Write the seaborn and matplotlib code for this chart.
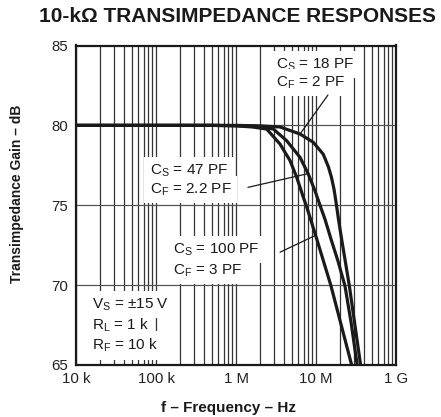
import numpy as np
import pandas as pd
import matplotlib
matplotlib.use("Agg")
import matplotlib.pyplot as plt
from matplotlib.ticker import LogLocator, NullFormatter, FixedLocator
import seaborn as sns

# Frequency response curves (Hz, dB)
freq_cs18 = [1e4, 1e5, 5e5, 1e6, 2e6, 3.55e6, 6.31e6, 9.25e6, 12.3e6, 14.3e6,
             15.6e6, 16.8e6, 17.8e6, 19.1e6, 20.9e6, 26.1e6, 36.2e6]
gain_cs18 = [80.0, 80.0, 80.0, 80.0, 79.97, 79.9, 79.46, 78.94, 78.2, 77.4,
             76.75, 76.0, 75.19, 74.12, 72.88, 69.96, 64.96]

freq_cs47 = [1e4, 1e5, 5e5, 1e6, 2e6, 2.93e6, 4.3e6, 6.31e6, 8.0e6, 9.72e6,
             11.22e6, 12.96e6, 15.4e6, 18.84e6, 23.0e6, 27.4e6, 32.8e6]
gain_cs47 = [80.0, 80.0, 80.0, 79.98, 79.92, 79.77, 79.04, 78.0, 76.96, 75.9,
             75.0, 74.12, 72.88, 71.5, 69.96, 67.69, 64.96]

freq_cs100 = [1e4, 1e5, 5e5, 1e6, 1.6e6, 2.42e6, 3.55e6, 4.73e6, 5.74e6, 6.94e6,
              7.65e6, 10.2e6, 15.3e6, 27.9e6]
gain_cs100 = [80.0, 80.0, 80.0, 79.97, 79.9, 79.77, 78.83, 77.8, 76.75, 75.5,
              74.9, 72.9, 70.0, 65.0]

series_names = ["CS = 18 PF", "CS = 47 PF", "CS = 100 PF"]

x_tick_values = [1e4, 1e5, 1e6, 1e7, 1e8]
x_tick_labels = ["10 k", "100 k", "1 M", "10 M", "1 G"]
y_tick_values = [65, 70, 75, 80, 85]

frames = []
for name, f, g in zip(series_names,
                      [freq_cs18, freq_cs47, freq_cs100],
                      [gain_cs18, gain_cs47, gain_cs100]):
    frames.append(pd.DataFrame({"freq": f, "gain": g, "series": name}))
df = pd.concat(frames, ignore_index=True)

sns.set_style("white")
plt.rcParams["font.family"] = ["Liberation Sans", "DejaVu Sans"]
plt.rcParams["mathtext.fontset"] = "custom"
plt.rcParams["mathtext.rm"] = "Liberation Sans"
plt.rcParams["mathtext.it"] = "Liberation Sans"

fig = plt.figure(figsize=(4.41, 4.17), dpi=100)
ax = fig.add_axes([76 / 441, 1 - 365 / 417, 320 / 441, 319.5 / 417])

sns.lineplot(data=df, x="freq", y="gain", hue="series", palette=["#1a1a1a"] * 3,
             legend=False, sort=False, estimator=None, linewidth=2.3, ax=ax,
             zorder=4)

ax.set_xscale("log")
ax.set_xlim(1e4, 1e8)
ax.set_ylim(65, 85)

ax.xaxis.set_major_locator(FixedLocator(x_tick_values))
ax.set_xticklabels(x_tick_labels)
ax.xaxis.set_minor_locator(LogLocator(base=10, subs=range(2, 10)))
ax.xaxis.set_minor_formatter(NullFormatter())
ax.set_yticks(y_tick_values)

ax.tick_params(axis="both", which="both", length=0, labelsize=10.8, colors="#222222")
ax.tick_params(axis="x", pad=5)
ax.tick_params(axis="y", pad=6)

ax.grid(False)
ax.grid(True, which="both", axis="x", color="#333333", linewidth=0.9, zorder=1)
ax.grid(True, which="major", axis="y", color="#555555", linewidth=0.9, zorder=1)
ax.set_axisbelow(True)

for s in ax.spines.values():
    s.set_visible(True)
    s.set_color("#1a1a1a")
    s.set_linewidth(1.6)

ax.set_xlabel("")
ax.set_ylabel("")

box = dict(facecolor="white", edgecolor="none", pad=4)
txt = dict(fontsize=11, color="#1a1a1a", ha="left", va="baseline", bbox=box, zorder=5)

# Annotation blocks
ax.text(3.2e6, 83.56, r"C$_\mathregular{S}$ = 18 PF", **txt)
ax.text(3.2e6, 82.44, r"C$_\mathregular{F}$ = 2 PF", **txt)
ax.text(8.41e4, 76.94, r"C$_\mathregular{S}$ = 47 PF", **txt)
ax.text(8.41e4, 75.75, r"C$_\mathregular{F}$ = 2.2 PF", **txt)
ax.text(1.63e5, 72.0, r"C$_\mathregular{S}$ = 100 PF", **txt)
ax.text(1.63e5, 70.69, r"C$_\mathregular{F}$ = 3 PF", **txt)
ax.text(1.58e4, 68.56, r"V$_\mathregular{S}$ = ±15 V", **txt)
ax.text(1.58e4, 67.19, r"R$_\mathregular{L}$ = 1 k", **txt)
ax.text(1.58e4, 65.94, r"R$_\mathregular{F}$ = 10 k", **txt)

# Leader lines from labels to curves
lead = dict(arrowstyle="-", color="#1a1a1a", lw=0.9, shrinkA=0, shrinkB=0)
ax.annotate("", xy=(6.3e6, 79.45), xytext=(14.1e6, 81.9), arrowprops=lead, zorder=5)
ax.annotate("", xy=(7.94e6, 76.98), xytext=(1.41e6, 76.12), arrowprops=lead, zorder=5)
ax.annotate("", xy=(9.72e6, 73.1), xytext=(3.55e6, 72.06), arrowprops=lead, zorder=5)

fig.text(237 / 441, 1 - 17 / 417, "10-kΩ TRANSIMPEDANCE RESPONSES", fontsize=15,
         fontweight="bold", ha="center", va="center", color="#1a1a1a")
fig.text(229 / 441, 1 - 408 / 417, "f – Frequency – Hz", fontsize=11,
         fontweight="bold", ha="center", va="center", color="#1a1a1a")
fig.text(17 / 441, 1 - 194 / 417, "Transimpedance Gain – dB", fontsize=10,
         fontweight="bold", ha="center", va="center", rotation=90, color="#1a1a1a")

fig.savefig("out.png", dpi=100, facecolor="white")
